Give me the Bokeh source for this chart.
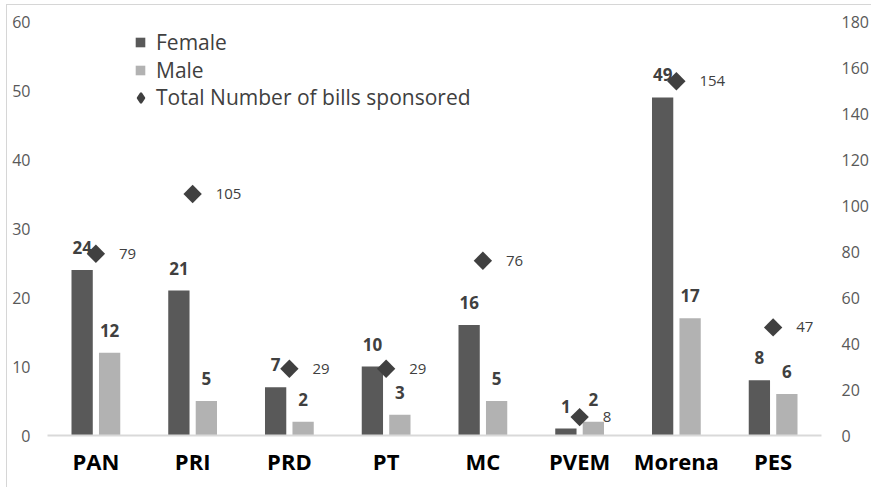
import math
from bokeh.plotting import figure
from bokeh.models import (ColumnDataSource, Range1d, LinearAxis, FixedTicker,
                          LabelSet, Legend, LegendItem)
from bokeh.core.properties import value
from bokeh.transform import dodge
from bokeh.embed import file_html
from bokeh.resources import INLINE

parties = ["PAN", "PRI", "PRD", "PT", "MC", "PVEM", "Morena", "PES"]
female = [24, 21, 7, 10, 16, 1, 49, 8]
male = [12, 5, 2, 3, 5, 2, 17, 6]
total = [79, 105, 29, 29, 76, 8, 154, 47]
left_ticks = [0, 10, 20, 30, 40, 50, 60]
right_ticks = [0, 20, 40, 60, 80, 100, 120, 140, 160, 180]

FONT = "Open Sans"
C_FEMALE = "#595959"
C_MALE = "#b2b2b2"
C_TOTAL = "#404040"
C_TEXT = "#404040"
C_TICK = "#595959"

src = ColumnDataSource(dict(
    party=parties, female=female, male=male, total=total,
    female_s=[str(v) for v in female], male_s=[str(v) for v in male],
    total_s=[str(v) for v in total],
))

p = figure(x_range=parties, y_range=Range1d(0, 60), width=864, height=482,
           output_backend="svg", toolbar_location=None,
           min_border_left=40, min_border_right=49, min_border_top=16,
           min_border_bottom=52)
p.extra_y_ranges = {"total": Range1d(0, 180)}
p.outline_line_color = None
p.xgrid.grid_line_color = None
p.ygrid.grid_line_color = None
p.background_fill_color = "white"
p.border_fill_color = "white"

OFF = 0.142
W = 0.22
r_f = p.vbar(x=dodge("party", -OFF, range=p.x_range), top="female", width=W,
             source=src, fill_color=C_FEMALE, line_color=None)
r_m = p.vbar(x=dodge("party", OFF, range=p.x_range), top="male", width=W,
             source=src, fill_color=C_MALE, line_color=None)
r_t = p.scatter(x="party", y="total", y_range_name="total", source=src,
                marker="square", angle=math.pi / 4, size=13,
                fill_color=C_TOTAL, line_color=None)
# same series, drawn only as the legend's swatch (legend ignores angle)
r_t_leg = p.scatter(x="party", y="total", y_range_name="total", source=src,
                    marker="diamond", size=13, fill_color=C_TOTAL,
                    line_color=C_TOTAL, line_width=2, visible=False)

# axes
p.yaxis.ticker = FixedTicker(ticks=left_ticks)
p.yaxis.axis_line_color = None
p.yaxis.major_tick_line_color = None
p.yaxis.major_tick_out = 0
p.yaxis.minor_tick_line_color = None
p.yaxis.major_label_text_font = FONT
p.yaxis.major_label_text_font_size = "16px"
p.yaxis.major_label_text_color = C_TICK
p.yaxis.major_label_standoff = 17

ra = LinearAxis(y_range_name="total", ticker=FixedTicker(ticks=right_ticks))
ra.axis_line_color = None
ra.major_tick_line_color = None
ra.major_tick_out = 0
ra.minor_tick_line_color = None
ra.major_label_text_font = FONT
ra.major_label_text_font_size = "16px"
ra.major_label_text_color = C_TICK
ra.major_label_standoff = 20
p.add_layout(ra, "right")

p.xaxis.axis_line_color = "#d9d9d9"
p.xaxis.axis_line_width = 2
p.xaxis.major_tick_line_color = None
p.xaxis.major_tick_out = 0
p.xaxis.minor_tick_line_color = None
p.xaxis.major_label_text_font = FONT
p.xaxis.major_label_text_font_style = "bold"
p.xaxis.major_label_text_font_size = "22px"
p.xaxis.major_label_text_color = "#000000"
p.xaxis.major_label_standoff = 10

# data labels
lf = LabelSet(x=dodge("party", -OFF, range=p.x_range), y="female", text="female_s",
              source=src, text_align="center", text_baseline="alphabetic",
              y_offset=16, text_font=value(FONT), text_font_style="bold",
              text_font_size="17px", text_color=C_TEXT)
lm = LabelSet(x=dodge("party", OFF, range=p.x_range), y="male", text="male_s",
              source=src, text_align="center", text_baseline="alphabetic",
              y_offset=16, text_font=value(FONT), text_font_style="bold",
              text_font_size="17px", text_color=C_TEXT)
lt = LabelSet(x="party", y="total", y_range_name="total", text="total_s",
              source=src, text_align="left", text_baseline="middle",
              x_offset=23, text_font=value(FONT), text_font_size="15px",
              text_color=C_TEXT)
p.add_layout(lf)
p.add_layout(lm)
p.add_layout(lt)

# legends
common = dict(padding=0, margin=0, spacing=0, border_line_color=None,
              background_fill_alpha=0, label_text_font=FONT,
              label_text_font_size="21px", label_text_color=C_TEXT)
leg1 = Legend(items=[LegendItem(label="Female", renderers=[r_f]),
                     LegendItem(label="Male", renderers=[r_m])],
              location=(87, 351), glyph_width=12, glyph_height=12,
              label_standoff=10, **common)
leg2 = Legend(items=[LegendItem(label="Total Number of bills sponsored", renderers=[r_t_leg])],
              location=(81, 324), glyph_width=25, glyph_height=25,
              label_standoff=3, **common)
p.add_layout(leg1)
p.add_layout(leg2)

p.styles = {"margin-left": "7px", "margin-top": "5px",
            "outline": "1px solid #d6d6d6"}

open("out.html", "w").write(file_html(p, INLINE))
